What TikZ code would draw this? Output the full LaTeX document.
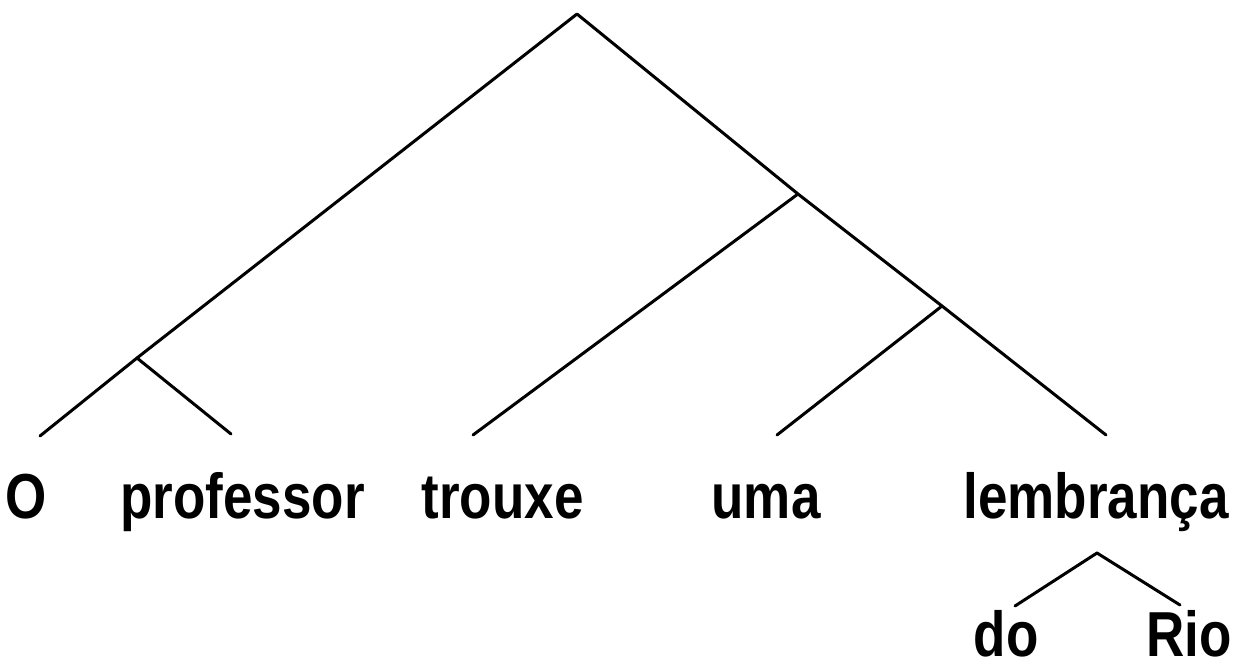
\documentclass[tikz,border=0pt]{standalone}
\usepackage{graphicx}
\usepackage{fontspec}
\setmainfont{Liberation Sans}
\newcommand{\tall}[1]{\scalebox{1}[1.2]{#1}}
\begin{document}
\begin{tikzpicture}[x=1pt,y=-1pt,
  branch/.style={line width=3pt,line cap=round,line join=round},
  word/.style={anchor=base,inner sep=0pt,font=\bfseries\fontsize{53}{60}\selectfont}]
\useasboundingbox (0,0) rectangle (1235,666);
\coordinate (root) at (577,14);
\coordinate (j1) at (137,358);
\coordinate (j2) at (798,194);
\coordinate (j3) at (942,306);
\coordinate (e1) at (40,436);
\coordinate (e2) at (231,434);
\coordinate (e3) at (473,435);
\coordinate (e4) at (777,435);
\coordinate (e5) at (1106,435);
\coordinate (apex) at (1097,553);
\coordinate (e6) at (1015,606);
\coordinate (e7) at (1180,605);
\draw[branch] (e1) -- (j1) -- (root) -- (j2) -- (j3) -- (e5);
\draw[branch] (j1) -- (e2);
\draw[branch] (j2) -- (e3);
\draw[branch] (j3) -- (e4);
\draw[branch] (e6) -- (apex) -- (e7);
\node[word] (w1) at (26.5,518) {\tall{O}};
\node[word] (w2) at (242.5,518) {\tall{professor}};
\node[word] (w3) at (502.5,518) {\tall{trouxe}};
\node[word] (w4) at (766,518) {\tall{uma}};
\node[word] (w5) at (1096,518) {\tall{lembrança}};
\node[word] (w6) at (1006,656) {\tall{do}};
\node[word] (w7) at (1189,656) {\tall{Rio}};
\end{tikzpicture}
\end{document}
